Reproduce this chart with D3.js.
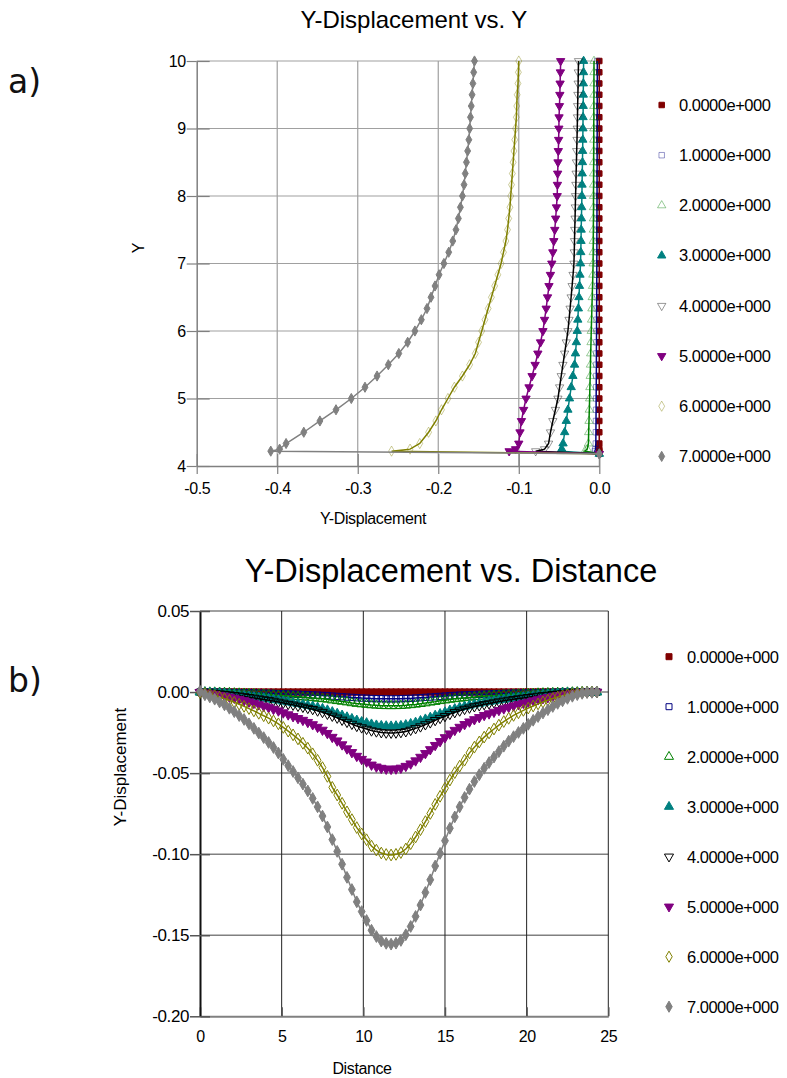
<!DOCTYPE html>
<html>
<head>
<meta charset="utf-8">
<script src="https://cdn.jsdelivr.net/npm/d3@7"></script>
<style>
body { margin: 0; background: #fff; }
svg { font-family: "Liberation Sans", Arial, sans-serif; }
</style>
</head>
<body>
<div id="chart"></div>
<script>
// series shared by both panels
const seriesNames = ["0.0000e+000", "1.0000e+000", "2.0000e+000", "3.0000e+000",
                     "4.0000e+000", "5.0000e+000", "6.0000e+000", "7.0000e+000"];
const seriesColors = ["#800000", "#000080", "#008000", "#008080", "#000000", "#800080", "#808000", "#808080"];
const seriesSymbols = ["square", "square", "triangle", "triangle", "triangleDown", "triangleDown", "diamond", "diamond"];
const seriesFilled = [true, false, false, true, false, true, false, true];

// panel a) : Y-Displacement vs. Y
const yLevels = [10, 9.833, 9.667, 9.5, 9.333, 9.167, 9, 8.833, 8.667, 8.5, 8.333, 8.167, 8, 7.833, 7.667, 7.5,
  7.333, 7.167, 7, 6.833, 6.667, 6.5, 6.333, 6.167, 6, 5.833, 5.667, 5.5, 5.333, 5.167, 5, 4.833, 4.667, 4.5,
  4.333, 4.25, 4.22, 4.18];
const dispA0 = [0, 0, 0, 0, 0, 0, 0, 0, 0, 0, 0, 0, 0, 0, 0, 0, 0, 0, 0, 0, 0, 0, 0, 0, 0, 0, 0, 0, 0, 0, 0, 0, 0, 0, 0, 0, 0, 0];
const dispA1 = [-0.0025, -0.0025, -0.0025, -0.0026, -0.0026, -0.0026, -0.0026, -0.0027, -0.0027, -0.0027, -0.0028,
  -0.0028, -0.0028, -0.0029, -0.0029, -0.003, -0.003, -0.003, -0.0031, -0.0031, -0.0032, -0.0032, -0.0033, -0.0034,
  -0.0034, -0.0035, -0.0036, -0.0036, -0.0037, -0.0038, -0.0039, -0.004, -0.0041, -0.0042, -0.0043, -0.0048, -0.0055, 0];
const dispA2 = [-0.0066, -0.0066, -0.0067, -0.0067, -0.0068, -0.0068, -0.0069, -0.0069, -0.007, -0.007, -0.0071,
  -0.0071, -0.0072, -0.0072, -0.0073, -0.0074, -0.0075, -0.0076, -0.0077, -0.008, -0.0084, -0.0088, -0.0092, -0.0096,
  -0.01, -0.0103, -0.0107, -0.011, -0.0113, -0.0117, -0.012, -0.0124, -0.0128, -0.0132, -0.0135, -0.015, -0.018, 0];
const dispA3 = [-0.0195, -0.0196, -0.0198, -0.0199, -0.02, -0.0202, -0.0203, -0.0205, -0.0207, -0.0209, -0.0212,
  -0.0214, -0.0216, -0.0219, -0.0222, -0.0225, -0.0227, -0.023, -0.0233, -0.024, -0.0246, -0.0253, -0.026, -0.0267,
  -0.0274, -0.0285, -0.0296, -0.0307, -0.0328, -0.0349, -0.037, -0.039, -0.041, -0.043, -0.045, -0.0465, -0.048, 0];
const dispA4 = [-0.0258, -0.0261, -0.0263, -0.0266, -0.0269, -0.0271, -0.0274, -0.0277, -0.0281, -0.0284, -0.0288,
  -0.0291, -0.0295, -0.0298, -0.0301, -0.0305, -0.0308, -0.0311, -0.0315, -0.0326, -0.0338, -0.035, -0.0363, -0.0376,
  -0.039, -0.041, -0.0431, -0.0452, -0.0473, -0.0493, -0.0514, -0.0545, -0.0577, -0.0606, -0.063, -0.068, -0.079, 0];
const dispA5 = [-0.048, -0.0483, -0.0487, -0.049, -0.0495, -0.05, -0.0502, -0.0505, -0.0509, -0.0513, -0.0517,
  -0.052, -0.0523, -0.0532, -0.0542, -0.0553, -0.0565, -0.0577, -0.059, -0.0607, -0.0625, -0.0643, -0.066, -0.068,
  -0.07, -0.073, -0.0763, -0.0797, -0.0835, -0.0873, -0.091, -0.094, -0.0967, -0.0985, -0.1, -0.104, -0.112, 0];
const dispA6 = [-0.1, -0.1005, -0.101, -0.102, -0.1025, -0.103, -0.104, -0.105, -0.106, -0.107, -0.108, -0.109,
  -0.11, -0.111, -0.1125, -0.114, -0.116, -0.119, -0.122, -0.126, -0.13, -0.134, -0.138, -0.142, -0.146, -0.15,
  -0.154, -0.161, -0.17, -0.18, -0.188, -0.196, -0.203, -0.212, -0.223, -0.235, -0.258, 0];
const dispA7 = [-0.155, -0.156, -0.157, -0.158, -0.159, -0.16, -0.161, -0.162, -0.1635, -0.165, -0.1665, -0.168,
  -0.17, -0.1725, -0.175, -0.178, -0.182, -0.187, -0.193, -0.199, -0.204, -0.209, -0.214, -0.221, -0.229, -0.238,
  -0.249, -0.262, -0.276, -0.291, -0.308, -0.327, -0.347, -0.367, -0.389, -0.397, -0.408, 0];
const xTicksA = [-0.5, -0.4, -0.3, -0.2, -0.1, 0];
const yTicksA = [4, 5, 6, 7, 8, 9, 10];

// panel b) : Y-Displacement vs. Distance
const distance = [0, 0.3, 0.6, 0.9, 1.2, 1.5, 1.8, 2.1, 2.4, 2.7, 3, 3.3, 3.6, 3.9, 4.2, 4.5, 4.8, 5.1, 5.4, 5.7,
  6, 6.3, 6.6, 6.9, 7.2, 7.5, 7.8, 8.1, 8.4, 8.7, 9, 9.3, 9.6, 9.9, 10.2, 10.5, 10.8, 11.1, 11.4, 11.7, 12, 12.3,
  12.6, 12.9, 13.2, 13.5, 13.8, 14.1, 14.4, 14.7, 15, 15.3, 15.6, 15.9, 16.2, 16.5, 16.8, 17.1, 17.4, 17.7, 18,
  18.3, 18.6, 18.9, 19.2, 19.5, 19.8, 20.1, 20.4, 20.7, 21, 21.3, 21.6, 21.9, 22.2, 22.5, 22.8, 23.1, 23.4, 23.7,
  24, 24.3];
const dispB0 = [0, 0, 0, 0, 0, 0, 0, 0, 0, 0, 0, 0, 0, 0, 0, 0, 0, 0, 0, 0, 0, 0, 0, 0, 0, 0, 0, 0, 0, 0, 0, 0, 0, 0,
  0, 0, 0, 0, 0, 0, 0, 0, 0, 0, 0, 0, 0, 0, 0, 0, 0, 0, 0, 0, 0, 0, 0, 0, 0, 0, 0, 0, 0, 0, 0, 0, 0, 0, 0, 0, 0, 0,
  0, 0, 0, 0, 0, 0, 0, 0, 0, 0];
const dispB1 = [0, 0, -0.0001, -0.0001, -0.0002, -0.0002, -0.0003, -0.0003, -0.0004, -0.0005, -0.0005, -0.0006,
  -0.0007, -0.0008, -0.0008, -0.0009, -0.001, -0.0011, -0.0012, -0.0013, -0.0014, -0.0015, -0.0016, -0.0018, -0.0019,
  -0.0021, -0.0022, -0.0025, -0.0027, -0.0029, -0.0031, -0.0033, -0.0035, -0.0037, -0.0038, -0.004, -0.0041, -0.0041,
  -0.0042, -0.0042, -0.0042, -0.0041, -0.004, -0.0039, -0.0037, -0.0035, -0.0033, -0.0031, -0.0029, -0.0027, -0.0025,
  -0.0023, -0.0021, -0.0019, -0.0018, -0.0016, -0.0015, -0.0014, -0.0013, -0.0012, -0.0011, -0.001, -0.0009, -0.0008,
  -0.0007, -0.0007, -0.0006, -0.0005, -0.0005, -0.0004, -0.0003, -0.0003, -0.0002, -0.0002, -0.0001, -0.0001, -0.0001,
  0, 0, 0, 0, 0];
const dispB2 = [0, -0.0001, -0.0002, -0.0002, -0.0003, -0.0004, -0.0005, -0.0007, -0.0008, -0.0009, -0.0011, -0.0012,
  -0.0014, -0.0015, -0.0017, -0.0019, -0.0021, -0.0023, -0.0025, -0.0027, -0.0029, -0.0031, -0.0033, -0.0036, -0.0039,
  -0.0042, -0.0045, -0.005, -0.0054, -0.0058, -0.0062, -0.0067, -0.0071, -0.0074, -0.0077, -0.008, -0.0082, -0.0084,
  -0.0085, -0.0085, -0.0085, -0.0084, -0.0082, -0.0079, -0.0076, -0.0072, -0.0068, -0.0063, -0.0059, -0.0054, -0.005,
  -0.0046, -0.0042, -0.0039, -0.0036, -0.0033, -0.003, -0.0028, -0.0026, -0.0024, -0.0022, -0.002, -0.0018, -0.0017,
  -0.0015, -0.0014, -0.0012, -0.0011, -0.001, -0.0008, -0.0007, -0.0006, -0.0005, -0.0004, -0.0003, -0.0002, -0.0001,
  -0.0001, 0, 0, 0, 0];
const dispB3 = [-0.0001, -0.0002, -0.0004, -0.0006, -0.0008, -0.0011, -0.0014, -0.0017, -0.002, -0.0023, -0.0027,
  -0.0031, -0.0035, -0.0038, -0.0042, -0.0047, -0.0051, -0.0057, -0.0062, -0.0067, -0.0072, -0.0077, -0.0083, -0.0089,
  -0.0096, -0.0104, -0.0113, -0.0124, -0.0134, -0.0145, -0.0156, -0.0166, -0.0176, -0.0185, -0.0192, -0.02, -0.0206,
  -0.0209, -0.0211, -0.0212, -0.0211, -0.0209, -0.0204, -0.0197, -0.0189, -0.0179, -0.0169, -0.0158, -0.0146, -0.0136,
  -0.0125, -0.0114, -0.0105, -0.0096, -0.0089, -0.0082, -0.0075, -0.007, -0.0064, -0.0059, -0.0055, -0.005, -0.0046,
  -0.0041, -0.0038, -0.0034, -0.0031, -0.0027, -0.0024, -0.0021, -0.0018, -0.0015, -0.0012, -0.001, -0.0007, -0.0005,
  -0.0004, -0.0002, -0.0001, 0, 0, 0];
const dispB4 = [-0.0001, -0.0003, -0.0005, -0.0007, -0.001, -0.0013, -0.0016, -0.002, -0.0023, -0.0027, -0.0032,
  -0.0036, -0.0041, -0.0046, -0.005, -0.0055, -0.0061, -0.0067, -0.0074, -0.0079, -0.0086, -0.0092, -0.0099, -0.0106,
  -0.0115, -0.0124, -0.0135, -0.0147, -0.0159, -0.0172, -0.0185, -0.0197, -0.021, -0.0219, -0.0228, -0.0238, -0.0244,
  -0.0249, -0.0251, -0.0252, -0.0251, -0.0248, -0.0243, -0.0234, -0.0224, -0.0213, -0.02, -0.0188, -0.0174, -0.0161,
  -0.0149, -0.0136, -0.0125, -0.0115, -0.0105, -0.0097, -0.0089, -0.0083, -0.0076, -0.0071, -0.0065, -0.0059, -0.0054,
  -0.0049, -0.0045, -0.004, -0.0036, -0.0032, -0.0028, -0.0024, -0.0021, -0.0018, -0.0014, -0.0011, -0.0009, -0.0006,
  -0.0004, -0.0003, -0.0001, -0.0001, 0, 0];
const dispB5 = [-0.0002, -0.0005, -0.0009, -0.0013, -0.0019, -0.0024, -0.003, -0.0037, -0.0044, -0.0052, -0.006,
  -0.0068, -0.0077, -0.0086, -0.0095, -0.0105, -0.0115, -0.0127, -0.0139, -0.015, -0.0162, -0.0173, -0.0186, -0.02,
  -0.0216, -0.0234, -0.0254, -0.0278, -0.03, -0.0324, -0.0349, -0.0372, -0.0395, -0.0414, -0.043, -0.0449, -0.0461,
  -0.0469, -0.0474, -0.0475, -0.0473, -0.0468, -0.0457, -0.0442, -0.0423, -0.0401, -0.0378, -0.0354, -0.0328, -0.0304,
  -0.028, -0.0257, -0.0235, -0.0216, -0.0199, -0.0183, -0.0169, -0.0156, -0.0143, -0.0133, -0.0123, -0.0112, -0.0102,
  -0.0093, -0.0084, -0.0076, -0.0068, -0.0061, -0.0053, -0.0046, -0.0039, -0.0033, -0.0027, -0.0021, -0.0017, -0.0012,
  -0.0008, -0.0005, -0.0002, -0.0001, 0, 0];
const dispB6 = [-0.0003, -0.0009, -0.0015, -0.0022, -0.0031, -0.0041, -0.0051, -0.0063, -0.0075, -0.0088, -0.0102,
  -0.0116, -0.0131, -0.0146, -0.0161, -0.0178, -0.0196, -0.0218, -0.0241, -0.0264, -0.0289, -0.0316, -0.0346, -0.0381,
  -0.0421, -0.0466, -0.052, -0.0588, -0.0635, -0.0686, -0.0739, -0.0787, -0.0836, -0.0875, -0.0911, -0.095, -0.0975,
  -0.0993, -0.1002, -0.1005, -0.1001, -0.099, -0.0968, -0.0935, -0.0894, -0.0849, -0.0799, -0.0749, -0.0693, -0.0643,
  -0.0593, -0.0543, -0.0497, -0.0457, -0.042, -0.0375, -0.034, -0.0308, -0.0278, -0.0252, -0.0228, -0.0204, -0.0182,
  -0.0162, -0.0144, -0.0128, -0.0113, -0.0099, -0.0086, -0.0073, -0.0061, -0.005, -0.004, -0.0031, -0.0023, -0.0016,
  -0.001, -0.0006, -0.0003, -0.0001, 0, 0];
const dispB7 = [0.0005, -0.0017, -0.003, -0.0044, -0.0061, -0.0079, -0.01, -0.0121, -0.0145, -0.0169, -0.0196,
  -0.0224, -0.0253, -0.0281, -0.0311, -0.0342, -0.0376, -0.0415, -0.0454, -0.049, -0.0529, -0.0568, -0.061, -0.0656,
  -0.0708, -0.0765, -0.0832, -0.091, -0.0983, -0.1062, -0.1143, -0.1218, -0.1294, -0.1354, -0.1409, -0.1469, -0.1508,
  -0.1536, -0.155, -0.1555, -0.1549, -0.1532, -0.1497, -0.1446, -0.1384, -0.1314, -0.1236, -0.1158, -0.1073, -0.0995,
  -0.0917, -0.084, -0.077, -0.0708, -0.065, -0.0599, -0.0552, -0.051, -0.047, -0.0435, -0.0401, -0.0367, -0.0334,
  -0.0303, -0.0275, -0.0249, -0.0224, -0.0199, -0.0174, -0.0151, -0.0129, -0.0109, -0.0089, -0.007, -0.0054, -0.0039,
  -0.0026, -0.0016, -0.0008, -0.0003, -0.0002, 0];
const xTicksB = [0, 5, 10, 15, 20, 25];
const yTicksB = [-0.2, -0.15, -0.1, -0.05, 0, 0.05];

const dispA = [dispA0, dispA1, dispA2, dispA3, dispA4, dispA5, dispA6, dispA7];
const dispB = [dispB0, dispB1, dispB2, dispB3, dispB4, dispB5, dispB6, dispB7];

const svg = d3.select("#chart").append("svg")
    .attr("width", 787)
    .attr("height", 1078);

function symbolPath(k, size) {
    const t = seriesSymbols[k];
    const type = t === "square" ? d3.symbolSquare : t === "diamond" ? d3.symbolDiamond : d3.symbolTriangle;
    return d3.symbol().type(type).size(size)();
}

function drawMarkers(g, pts, k, size, pale) {
    g.selectAll(null)
        .data(pts)
        .enter().append("path")
        .attr("d", symbolPath(k, size))
        .attr("transform", d => `translate(${d[0]},${d[1]})` + (seriesSymbols[k] === "triangleDown" ? " rotate(180)" : ""))
        .attr("fill", seriesFilled[k] ? seriesColors[k] : "none")
        .attr("stroke", seriesColors[k])
        .attr("stroke-width", 1)
        .attr("stroke-opacity", seriesFilled[k] ? 1 : (pale ? 0.4 : 1));
}

function drawLegend(mx, tx, y0, step, size, pale) {
    const g = svg.append("g");
    seriesNames.forEach((name, k) => {
        const y = y0 + k * step;
        drawMarkers(g, [[mx, y]], k, size, pale);
        g.append("text")
            .attr("x", tx).attr("y", y + 5.8)
            .attr("font-size", 16.5)
            .attr("letter-spacing", "-0.5px")
            .attr("fill", "#000")
            .text(name);
    });
}

// ---------- panel a ----------
const xA = d3.scaleLinear().domain([-0.5, 0]).range([196.7, 599.3]);
const yA = d3.scaleLinear().domain([4, 10]).range([466, 61]);

const gA = svg.append("g");

// grid
gA.append("g").selectAll("line").data(xTicksA.slice(1)).enter().append("line")
    .attr("x1", d => xA(d)).attr("x2", d => xA(d)).attr("y1", yA(4)).attr("y2", yA(10))
    .attr("stroke", "#a0a0a0").attr("stroke-width", 1.2);
gA.append("g").selectAll("line").data(yTicksA.slice(1)).enter().append("line")
    .attr("x1", xA(-0.5)).attr("x2", xA(0)).attr("y1", d => yA(d)).attr("y2", d => yA(d))
    .attr("stroke", "#a0a0a0").attr("stroke-width", 1.2);

const axA_x = gA.append("g").attr("transform", `translate(0,${yA(4)})`)
    .call(d3.axisBottom(xA).tickValues(xTicksA).tickFormat(d => d.toFixed(1)).tickSize(8).tickSizeOuter(0));
gA.append("g").attr("transform", `translate(0,${yA(4)})`)
    .call(d3.axisTop(xA).tickValues(xTicksA).tickFormat("").tickSize(12).tickSizeOuter(0))
    .select(".domain").remove();
const axA_y = gA.append("g").attr("transform", `translate(${xA(-0.5)},0)`)
    .call(d3.axisLeft(yA).tickValues(yTicksA).tickFormat(d3.format("d")).tickSize(10).tickSizeOuter(0));
gA.append("g").attr("transform", `translate(${xA(-0.5)},0)`)
    .call(d3.axisRight(yA).tickValues(yTicksA).tickFormat("").tickSize(13).tickSizeOuter(0))
    .select(".domain").remove();

gA.selectAll(".domain").attr("stroke", "#808080").attr("stroke-width", 1.5);
gA.selectAll(".tick line").attr("stroke", "#808080").attr("stroke-width", 1.2);
axA_x.selectAll(".tick text").attr("font-size", 16).attr("fill", "#000").attr("dy", "1.05em")
    .attr("font-family", "Liberation Sans, Arial, sans-serif").attr("letter-spacing", "-0.4px");
axA_y.selectAll(".tick text").attr("font-size", 16).attr("fill", "#000").attr("x", -11)
    .attr("font-family", "Liberation Sans, Arial, sans-serif").attr("letter-spacing", "-0.4px");

const lineA = d3.line().x(d => xA(d[0])).y(d => yA(d[1]));
dispA.forEach((vals, k) => {
    const pts = yLevels.map((y, i) => [vals[i], y]);
    gA.append("path").datum(pts)
        .attr("d", lineA).attr("fill", "none")
        .attr("stroke", seriesColors[k]).attr("stroke-width", 1.5);
    drawMarkers(gA.append("g"), pts.map(p => [xA(p[0]), yA(p[1])]), k, 30, true);
});

svg.append("text").attr("x", 414).attr("y", 28).attr("text-anchor", "middle")
    .attr("font-size", 24).attr("fill", "#000").text("Y-Displacement vs. Y");
svg.append("text").attr("x", 373).attr("y", 524).attr("text-anchor", "middle")
    .attr("font-size", 16).attr("letter-spacing", "-0.4px").attr("fill", "#000").text("Y-Displacement");
svg.append("text").attr("transform", "translate(138,248) rotate(-90)").attr("dy", "0.35em")
    .attr("text-anchor", "middle").attr("font-size", 16).attr("fill", "#000").text("Y");
svg.append("text").attr("x", 8).attr("y", 93).attr("font-family", "DejaVu Sans")
    .attr("font-size", 33).attr("fill", "#111").text("a)");

drawLegend(661.7, 679, 105, 50.2, 30, true);

// ---------- panel b ----------
const xB = d3.scaleLinear().domain([0, 25]).range([200, 608.3]);
const yB = d3.scaleLinear().domain([-0.2, 0.05]).range([1016.3, 611]);

const gB = svg.append("g");

gB.append("g").selectAll("line").data(yTicksB.slice(1)).enter().append("line")
    .attr("x1", xB(0)).attr("x2", xB(25)).attr("y1", d => yB(d)).attr("y2", d => yB(d))
    .attr("stroke", "#808080").attr("stroke-width", 1.5);
gB.append("g").selectAll("line").data(xTicksB.slice(1)).enter().append("line")
    .attr("x1", d => xB(d)).attr("x2", d => xB(d)).attr("y1", yB(-0.2)).attr("y2", yB(0.05))
    .attr("stroke", "#222").attr("stroke-width", 1);

const axB_x = gB.append("g").attr("transform", `translate(0,${yB(-0.2)})`)
    .call(d3.axisBottom(xB).tickValues(xTicksB).tickFormat(d3.format("d")).tickSize(0).tickPadding(14).tickSizeOuter(0));
gB.append("g").attr("transform", `translate(0,${yB(-0.2)})`)
    .call(d3.axisTop(xB).tickValues(xTicksB).tickFormat("").tickSize(9).tickSizeOuter(0))
    .select(".domain").remove();
const axB_y = gB.append("g").attr("transform", `translate(${xB(0)},0)`)
    .call(d3.axisLeft(yB).tickValues(yTicksB).tickFormat(d => d.toFixed(2)).tickSize(10).tickSizeOuter(0));
gB.append("g").attr("transform", `translate(${xB(0)},0)`)
    .call(d3.axisRight(yB).tickValues(yTicksB).tickFormat("").tickSize(10).tickSizeOuter(0))
    .select(".domain").remove();

gB.selectAll(".tick line").attr("stroke", "#555").attr("stroke-width", 1.5);
axB_x.select(".domain").attr("stroke", "#808080").attr("stroke-width", 2);
axB_y.select(".domain").attr("stroke", "#111").attr("stroke-width", 2);
axB_x.selectAll(".tick text").attr("font-size", 16).attr("fill", "#000")
    .attr("font-family", "Liberation Sans, Arial, sans-serif").attr("letter-spacing", "-0.4px");
axB_y.selectAll(".tick text").attr("font-size", 17).attr("fill", "#000").attr("x", -11)
    .attr("font-family", "Liberation Sans, Arial, sans-serif").attr("letter-spacing", "-0.4px");

const lineB = d3.line().x(d => xB(d[0])).y(d => yB(d[1]));
dispB.forEach((vals, k) => {
    const pts = distance.map((x, i) => [x, vals[i]]);
    gB.append("path").datum(pts)
        .attr("d", lineB).attr("fill", "none")
        .attr("stroke", seriesColors[k]).attr("stroke-width", 1.5);
    drawMarkers(gB.append("g"), pts.map(p => [xB(p[0]), yB(p[1])]), k, 40, false);
});

svg.append("text").attr("x", 451).attr("y", 582).attr("text-anchor", "middle")
    .attr("font-size", 32.5).attr("fill", "#000").text("Y-Displacement vs. Distance");
svg.append("text").attr("x", 362).attr("y", 1074).attr("text-anchor", "middle")
    .attr("font-size", 16).attr("letter-spacing", "-0.4px").attr("fill", "#000").text("Distance");
svg.append("text").attr("transform", "translate(120,767) rotate(-90)").attr("dy", "0.35em")
    .attr("text-anchor", "middle").attr("font-size", 17).attr("fill", "#000").text("Y-Displacement");
svg.append("text").attr("x", 8).attr("y", 692).attr("font-family", "DejaVu Sans")
    .attr("font-size", 33).attr("fill", "#111").text("b)");

drawLegend(669, 687, 656.7, 50, 36, false);
</script>
</body>
</html>
